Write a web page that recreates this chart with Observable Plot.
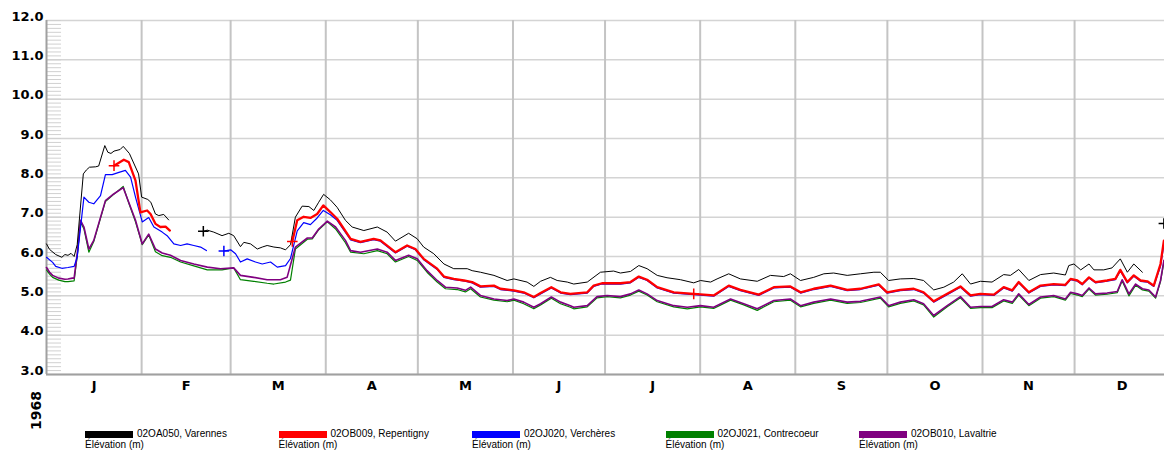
<!DOCTYPE html>
<html><head><meta charset="utf-8">
<script src="https://cdn.jsdelivr.net/npm/d3@7"></script>
<script src="https://cdn.jsdelivr.net/npm/@observablehq/plot@0.6"></script>
<style>
body{margin:0;background:#fff;width:1164px;height:453px;overflow:hidden}
#legend{position:relative;height:25px;font-family:"Liberation Sans",Arial,sans-serif;font-size:10px;color:#000}
.item{position:absolute;top:0}
.sw{position:absolute;left:0;top:3px;width:48px;height:7px}
.l1{position:absolute;left:52px;top:0;white-space:nowrap;line-height:12px}
.l2{position:absolute;left:0;top:11px;white-space:nowrap;line-height:12px}
</style></head><body><div id="chart"></div><div id="legend"></div>
<script>
const yearLabel = "1968";
const monthLetters = ["J","F","M","A","M","J","J","A","S","O","N","D"];
const yTicks = [3,4,5,6,7,8,9,10,11,12];
const seriesNames = ["02OA050, Varennes","02OB009, Repentigny","02OJ020, Verchères","02OJ021, Contrecoeur","02OB010, Lavaltrie"];
const seriesColors = ["#000000","#ff0000","#0000ff","#008000","#800080"];
const unitLabel = "Élévation (m)";

// day of year (1 = Jan 1) and elevation; null = gap
const varennesDay = [1,2,4,6,7,8,9,10,11,13,14,15,17,18,20,21,22,23,25,26,28,31,32,34,35,36.5,37.6,39.2,40.8,41.5,
 52.1,53.4,55.5,58.2,60.4,62,64.2,65.3,67.5,69.7,71.3,72.9,75.1,77.2,78.9,80.5,82.1,84.3,86.5,88.1,89.7,91.3,93.5,95.7,98.4,100.6,104.4,108.8,112,114.7,119,121.8,123.9,127.2,130.5,133.7,138.1,139.7,142.4,146.8,151.1,153.3,157.6,159.8,162,165.2,167.4,170.7,172.8,177.2,181.5,185.8,188,191.3,194,196.7,200,203.2,207.6,211.9,214.1,217.4,219.5,223.3,227.1,232.6,236.9,241.2,243.4,246.7,251,254.3,257.5,261.9,266.2,270.6,272.7,275.4,279.2,283.6,286.8,290.1,293.4,296.6,299.4,302.1,305.3,309.1,312.9,315.1,317.8,321.1,324.9,329.2,333,334.1,335.8,338,340.7,342.3,345.5,348.2,350.9,353.2,355.3,358.1];
const varennesVal = [6.32,6.18,6.05,5.98,6.05,6.03,6.08,6.0,6.3,8.1,8.2,8.27,8.28,8.3,8.82,8.65,8.62,8.68,8.72,8.80,8.62,8.10,7.51,7.45,7.38,7.08,7.04,7.07,6.93,null,
 6.64,6.67,6.62,6.53,6.59,6.53,6.25,6.36,6.32,6.19,6.24,6.28,6.24,6.22,6.17,6.30,7.0,7.28,7.27,7.17,7.38,7.58,7.44,7.25,6.92,6.75,6.66,6.75,6.62,6.39,6.59,6.45,6.24,6.07,5.81,5.69,5.69,5.64,5.60,5.52,5.39,5.43,5.35,5.24,5.37,5.47,5.39,5.35,5.30,5.35,5.60,5.63,5.58,5.62,5.77,5.69,5.52,5.46,5.41,5.33,5.39,5.35,5.43,5.56,5.43,5.37,5.52,5.49,5.56,5.39,5.47,5.56,5.58,5.52,5.56,5.60,5.60,5.39,5.43,5.44,5.39,5.15,5.22,5.35,5.56,5.30,5.37,5.35,5.54,5.52,5.67,5.39,5.54,5.58,5.53,5.77,5.81,5.66,5.81,5.66,5.66,5.71,5.94,5.60,5.81,5.60];

const repentignyDay = [23,26.2,27.8,30,31.6,33.8,34.9,36.5,38.1,39.8,41.2,42,
 81.1,82.7,84.8,87,89.2,91.2,93.5,95.7,100.1,103.3,107.6,109.8,114.7,118.5,121.2,123.9,128.3,130.5,133.7,137,139.7,142.4,146.8,148.9,153.3,156.5,159.8,162,165.5,168.5,171.7,174.4,177.2,179.3,182,188,191.3,194,196.7,200,205.4,211.9,218.4,223.3,227.1,233.1,238,243.4,246.7,251,256.5,261.9,266.2,272.2,274.9,279.2,283.6,286.8,290.1,294.5,298.8,302.1,305.3,309.7,312.9,315.7,317.8,321.1,324.9,329.2,333,334.7,336.9,338.5,340.7,342.8,346.6,349.3,350.9,353.2,355.3,357.5,359.7,361.8,364,365.1];
const repentignyVal = [8.31,8.46,8.40,7.93,7.12,7.17,7.08,6.83,6.75,6.76,6.66,null,
 6.38,6.92,7.01,6.98,7.08,7.30,7.13,6.96,6.45,6.37,6.45,6.41,6.11,6.28,6.19,5.94,5.69,5.49,5.43,5.39,5.35,5.24,5.26,5.18,5.14,5.09,4.97,5.07,5.22,5.09,5.05,5.07,5.09,5.26,5.32,5.32,5.35,5.49,5.41,5.22,5.09,5.05,5.01,5.26,5.15,5.03,5.22,5.24,5.09,5.18,5.26,5.15,5.18,5.29,5.09,5.15,5.18,5.09,4.86,5.05,5.24,5.01,5.05,5.03,5.22,5.14,5.35,5.09,5.26,5.30,5.28,5.43,5.39,5.30,5.47,5.35,5.39,5.43,5.66,5.35,5.52,5.39,5.37,5.26,5.81,6.40];

const vercheresDay = [1,3,4,6,8,10,11,13.2,14.8,16.4,18.6,20.2,22.4,24.6,26.7,28.4,30,32.2,34.3,36,38.7,40.3,42.5,44.7,46.8,49,51.2,53.1,54,
 58.8,61,62.6,64.2,66.4,69.1,71.3,74,76.2,78.9,80.5,82.7,84.8,87,89.2,91.2,93.5,95.7,100.1,103.3,107.6,109.8,114.7,118.5,121.2,123.9,128.3,130.5,133.7,137,139.7,142.4,146.8,148.9,153.3,156.5,159.8,162,165.5,168.5,171.7,174.4,177.2,179.3,182,188,191.3,194,196.7,200,205.4,211.9,218.4,223.3,227.1,233.1,238,243.4,246.7,251,256.5,261.9,266.2,272.2,274.9,279.2,283.6,286.8,290.1,294.5,298.8,302.1,305.3,309.7,312.9,315.7,317.8,321.1,324.9,329.2,333,334.7,336.9,338.5,340.7,342.8,346.6,349.3,350.9,353.2,355.3,357.5,359.7,361.8,364,365.1];
const vercheresVal = [5.98,5.85,5.75,5.70,5.72,5.75,5.98,7.51,7.38,7.34,7.55,8.08,8.08,8.14,8.19,8.02,7.51,6.88,6.99,6.75,6.62,6.53,6.32,6.28,6.32,6.28,6.24,6.15,null,
 6.14,6.17,6.07,5.86,5.94,5.86,5.81,5.86,5.73,5.77,5.95,6.65,6.86,6.81,6.98,7.17,7.06,6.92,6.42,6.35,6.43,6.39,6.09,6.26,6.17,5.92,5.67,5.47,5.41,5.38,5.33,5.22,5.24,5.16,5.12,5.07,4.95,5.05,5.20,5.07,5.03,5.05,5.07,5.24,5.30,5.30,5.33,5.47,5.39,5.20,5.07,5.03,4.99,5.24,5.13,5.01,5.20,5.22,5.07,5.16,5.24,5.13,5.16,5.27,5.07,5.13,5.16,5.07,4.84,5.03,5.22,4.99,5.03,5.01,5.20,5.12,5.33,5.07,5.24,5.28,5.26,5.41,5.37,5.28,5.45,5.33,5.37,5.41,5.63,5.33,5.50,5.37,5.35,5.24,5.75,6.30];

const contrecoeurDay = [1,2,3,5,7,8,10,11,12.1,13.2,14.8,16.4,20.2,22.9,26,27.8,30,32.2,34.3,36.5,38.7,41.4,44.7,49,53.4,58.2,62,64.2,68.5,72.9,75.1,78.9,80.5,82.1,86,87.6,89.7,92.5,95.2,98.4,100.1,104.4,108.8,112,114.7,119,121.8,125,128.3,131,134.8,137.5,139.2,142.4,146.8,151.1,153.3,156.5,159.8,162,165.5,168.5,171.7,172.8,177.2,180.4,183.7,188,191.3,194,196.7,200,205.4,209.8,214.1,218.4,223.9,228.2,232.6,238,243.4,246.7,251,256.5,261.9,266.2,272.7,275.4,279.2,283.6,286.8,290.1,294.5,298.8,302.1,305.3,309.1,312.9,315.7,317.8,321.1,324.9,329.2,333,334.7,336.9,338.5,340.7,342.8,346.6,349.9,351.5,353.7,355.9,358.1,360.2,362.4,364,365.1];
const contrecoeurVal = [5.66,5.55,5.47,5.40,5.36,5.36,5.38,6.0,6.88,6.70,6.11,6.38,7.40,7.58,7.78,7.36,6.88,6.30,6.55,6.12,6.02,5.98,5.86,5.76,5.66,5.66,5.71,5.41,5.37,5.32,5.30,5.35,5.40,6.19,6.44,6.45,6.68,6.88,6.70,6.35,6.11,6.07,6.15,6.07,5.86,6.00,5.90,5.60,5.35,5.18,5.16,5.10,5.18,4.97,4.89,4.85,4.89,4.80,4.67,4.77,4.94,4.80,4.71,4.67,4.72,4.95,4.98,4.95,5.02,5.12,5.02,4.85,4.72,4.67,4.72,4.68,4.89,4.77,4.63,4.85,4.89,4.72,4.81,4.89,4.81,4.83,4.94,4.72,4.81,4.87,4.77,4.46,4.72,4.95,4.68,4.70,4.70,4.87,4.81,5.02,4.75,4.94,4.98,4.89,5.06,5.02,4.98,5.17,5.02,5.04,5.08,5.38,5.00,5.27,5.15,5.12,4.94,5.36,5.85];

const lavaltrieDay = [1,2,3,5,7,8,9.4,10,11,12.1,13.2,14.8,16.4,20.2,22.9,26,27.8,30,32.2,34.3,36.5,38.7,41.4,44.7,49,53.4,57.7,62,64.2,68.5,72.9,77.2,79.4,82.1,86,87.6,89.7,92.5,95.2,98.4,100.1,103.3,108.8,112,114.7,119,121.8,125,128.3,131,134.8,137.5,139.2,142.4,146.8,151.1,153.3,156.5,159.8,162,165.5,168.5,171.7,172.8,177.2,180.4,183.7,188,191.3,194,196.7,200,205.4,209.8,214.1,218.4,223.9,228.2,232.6,238,243.4,246.7,251,256.5,261.9,266.2,272.7,275.4,279.2,283.6,286.8,290.1,294.5,298.8,302.1,305.3,309.1,312.9,315.7,317.8,321.1,324.9,329.2,333,334.7,336.9,338.5,340.7,342.8,346.6,349.9,351.5,353.7,355.9,358.1,360.2,362.4,364,365.1];
const lavaltrieVal = [5.72,5.60,5.52,5.45,5.42,5.43,5.45,5.45,6.07,6.92,6.75,6.19,6.41,7.42,7.59,7.75,7.38,6.92,6.32,6.57,6.19,6.09,6.03,5.90,5.81,5.73,5.69,5.71,5.52,5.47,5.41,5.41,5.47,6.24,6.47,6.47,6.70,6.90,6.75,6.41,6.15,6.11,6.19,6.11,5.90,6.03,5.94,5.64,5.39,5.22,5.20,5.14,5.22,5.01,4.92,4.88,4.92,4.84,4.71,4.80,4.97,4.84,4.75,4.71,4.75,4.98,5.01,4.98,5.05,5.15,5.05,4.88,4.75,4.71,4.75,4.71,4.92,4.80,4.67,4.88,4.92,4.75,4.84,4.92,4.84,4.86,4.97,4.75,4.84,4.90,4.80,4.50,4.75,4.98,4.71,4.73,4.73,4.90,4.84,5.05,4.78,4.97,5.01,4.92,5.09,5.05,5.01,5.20,5.05,5.07,5.11,5.41,5.05,5.30,5.18,5.15,4.97,5.39,5.90];

// isolated "+" marks (series index, day, value)
const plusSeries = [0,0,1,1,1,2];
const plusDay = [52.1,365.1,23,81.1,211.9,58.8];
const plusVal = [6.64,6.84,8.31,6.38,5.05,6.14];

const t0 = Date.UTC(1968,0,1);
const toDate = d => new Date(t0 + (d-1)*864e5);
const rows = (days, vals) => days.map((d,i) => ({date: toDate(d), value: vals[i]}));
const allDays = [varennesDay, repentignyDay, vercheresDay, contrecoeurDay, lavaltrieDay];
const allVals = [varennesVal, repentignyVal, vercheresVal, contrecoeurVal, lavaltrieVal];
const data = allDays.map((d,i) => rows(d, allVals[i]));
const widths = [1, 2.3, 1.2, 1.2, 1.6];
const drawOrder = [3,4,2,1,0];

const monthStarts = d3.range(1,12).map(m => new Date(Date.UTC(1968,m,1)));
const monthMids = d3.range(0,12).map(m => new Date((Date.UTC(1968,m,1)+Date.UTC(1968,m+1,1))/2));
const minor = d3.range(30,121).map(v => v/10);
const pluses = plusDay.map((d,i) => ({date: toDate(d), value: plusVal[i], s: plusSeries[i]}));

const chart = Plot.plot({
  width: 1164, height: 428,
  marginTop: 20, marginBottom: 54, marginLeft: 46, marginRight: 0,
  style: {fontFamily: "'DejaVu Sans', Verdana, sans-serif", background: "#fff", overflow: "visible"},
  x: {type: "utc", domain: [toDate(1), toDate(365.3)]},
  y: {domain: [3, 12]},
  marks: [
    Plot.gridY(yTicks, {stroke: "#d4d4d4", strokeOpacity: 1, strokeWidth: 1.5}),
    Plot.ruleX(monthStarts, {stroke: "#c4c4c4", strokeWidth: 2}),
    Plot.ruleY(minor, {x1: () => toDate(1), x2: () => toDate(5.9), stroke: "#d0d0d0", strokeWidth: 1}),
    Plot.ruleX([toDate(1)], {stroke: "#a0a0a0", strokeWidth: 2}),
    Plot.ruleY([3], {stroke: "#a0a0a0", strokeWidth: 2}),
    ...drawOrder.map(i => Plot.line(data[i], {x: "date", y: "value", stroke: seriesColors[i], strokeWidth: widths[i], curve: "linear"})),
    Plot.dot(pluses, {x: "date", y: "value", symbol: "plus", r: 3.5, stroke: d => seriesColors[d.s], strokeWidth: 1.5}),
    Plot.axisY(yTicks, {tickSize: 0, tickPadding: 3, tickFormat: d => d.toFixed(1), fontWeight: "bold", fontSize: 13, dy: -4, label: null}),
    Plot.axisX(monthMids, {tickSize: 0, tickPadding: 6, tickFormat: d => monthLetters[d.getUTCMonth()], fontWeight: "bold", fontSize: 13, label: null}),
    Plot.text([yearLabel], {frameAnchor: "bottom-left", rotate: -90, dx: -6, dy: 36, textAnchor: "middle", fontWeight: "bold", fontSize: 14})
  ]
});
document.getElementById("chart").appendChild(chart);

const legend = document.getElementById("legend");
seriesNames.forEach((name, i) => {
  const item = document.createElement("div");
  item.className = "item";
  item.style.left = (85 + i*193.5) + "px";
  item.innerHTML = `<div class="sw" style="background:${seriesColors[i]}"></div><div class="l1"></div><div class="l2"></div>`;
  item.querySelector(".l1").textContent = name;
  item.querySelector(".l2").textContent = unitLabel;
  legend.appendChild(item);
});
</script>
</body></html>
